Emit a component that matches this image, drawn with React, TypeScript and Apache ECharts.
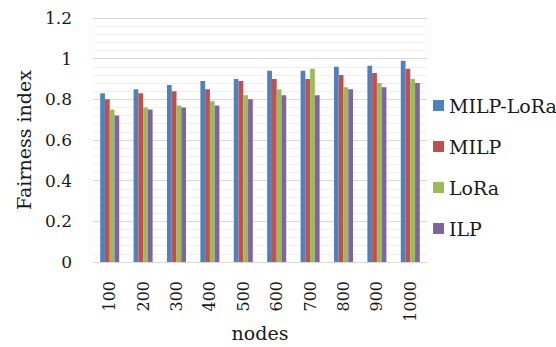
import React, { useEffect, useRef } from "react";
import * as echarts from "echarts";

const categories = ["100", "200", "300", "400", "500", "600", "700", "800", "900", "1000"];
const milpLora = [0.83, 0.85, 0.87, 0.89, 0.9, 0.94, 0.94, 0.96, 0.965, 0.99];
const milp = [0.8, 0.83, 0.84, 0.85, 0.89, 0.9, 0.9, 0.92, 0.93, 0.95];
const lora = [0.75, 0.76, 0.77, 0.79, 0.82, 0.85, 0.95, 0.86, 0.88, 0.9];
const ilp = [0.72, 0.75, 0.76, 0.77, 0.8, 0.82, 0.82, 0.85, 0.86, 0.88];
const seriesNames = ["MILP-LoRa", "MILP", "LoRa", "ILP"];
const colors = ["#4F81BD", "#C0504D", "#9BBB59", "#8064A2"];

const FONT = "DejaVu Serif";
const TEXT = "#1a1a1a";

export default function App() {
  const ref = useRef<HTMLDivElement>(null);
  useEffect(() => {
    if (!ref.current) return;
    const chart = echarts.init(ref.current, undefined, { renderer: "svg" });
    const data = [milpLora, milp, lora, ilp];
    chart.setOption({
      animation: false,
      textStyle: { fontFamily: FONT },
      grid: { left: 93, right: 129, top: 18, bottom: 85, outerBoundsMode: "none", containLabel: false },
      legend: {
        orient: "vertical",
        left: 428,
        top: 90,
        itemWidth: 11,
        itemHeight: 11,
        itemGap: 20,
        icon: "rect",
        data: seriesNames,
        textStyle: { fontFamily: FONT, fontSize: 19, lineHeight: 21, color: TEXT },
      },
      xAxis: {
        type: "category",
        data: categories,
        name: "nodes",
        nameLocation: "middle",
        nameGap: 61,
        nameMoveOverlap: false,
        nameTextStyle: { fontFamily: FONT, fontSize: 19, lineHeight: 20, color: TEXT },
        axisLine: { lineStyle: { color: "#d9d9d9" } },
        axisTick: { show: false },
        axisLabel: {
          rotate: 90,
          margin: 19,
          fontFamily: FONT,
          fontSize: 16,
          color: TEXT,
        },
      },
      yAxis: {
        type: "value",
        min: 0,
        max: 1.2,
        interval: 0.2,
        name: "Fairness index",
        nameLocation: "middle",
        nameGap: 60,
        nameTextStyle: { fontFamily: FONT, fontSize: 19, color: TEXT },
        axisLine: { show: false },
        axisTick: { show: false },
        axisLabel: {
          margin: 21,
          fontFamily: FONT,
          fontSize: 17,
          color: TEXT,
          formatter: (v: number) => String(Math.round(v * 10) / 10),
        },
        splitLine: { lineStyle: { color: "#d9d9d9", width: 1 } },
        minorTick: { show: false, splitNumber: 5 },
        minorSplitLine: { show: true, lineStyle: { color: "#efefef", width: 1 } },
      },
      series: seriesNames.map((name, i) => ({
        name,
        type: "bar",
        data: data[i],
        barGap: "0%",
        barCategoryGap: "43%",
        itemStyle: { color: colors[i] },
      })),
    });
    return () => chart.dispose();
  }, []);
  return (
    <div
      ref={ref}
      style={{ position: "fixed", left: 0, top: 0, width: 556, height: 347, background: "#fff" }}
    />
  );
}
